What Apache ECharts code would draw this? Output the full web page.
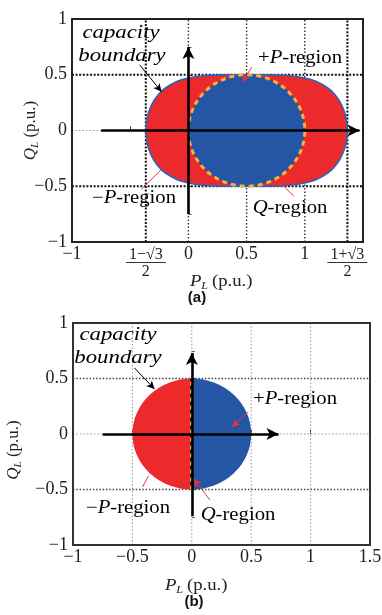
<!DOCTYPE html>
<html><head><meta charset="utf-8">
<script src="https://cdn.jsdelivr.net/npm/echarts@6/dist/echarts.min.js"></script>
<style>html,body{margin:0;padding:0;background:#fff}#c{width:382px;height:615px}</style>
</head><body><div id="c"></div>
<script>
// ================= DATA =================
// panel (a)
const xRangeA = [-1, 1.5];
const yRange = [-1, 1];
const xTicksA = [-1, -0.366, 0, 0.5, 1, 1.366];
const xTickLabelsA = ['−1', 'FRAC_MINUS', '0', '0.5', '1', 'FRAC_PLUS'];
const yTickValues = [-1, -0.5, 0, 0.5, 1];
const yTickLabels = ['−1', '−0.5', '0', '0.5', '1'];
// capacity boundary of panel (a)
const boundaryP      = [-0.366, -0.36, -0.34, -0.30, -0.25, -0.20, -0.10, 0.00, 0.15, 0.30, 0.50, 0.70, 0.85, 1.00, 1.10, 1.20, 1.25, 1.30, 1.34, 1.36, 1.366];
const boundaryQUpper = [0, 0.083, 0.169, 0.261, 0.331, 0.379, 0.439, 0.471, 0.493, 0.499, 0.5, 0.499, 0.493, 0.471, 0.439, 0.379, 0.331, 0.261, 0.169, 0.083, 0];
const boundaryQLower = [0, -0.083, -0.169, -0.261, -0.331, -0.379, -0.439, -0.471, -0.493, -0.499, -0.5, -0.499, -0.493, -0.471, -0.439, -0.379, -0.331, -0.261, -0.169, -0.083, 0];
const qRegionCenterA = [0.5, 0];
const qRegionRadiusA = 0.5;
const gridXMediumA = [0, 0.5, 1];
const gridXHeavyA = [-0.366, 1.366];
const gridYHeavyA = [-0.5, 0.5];
const gridYLightA = [0];
const axisArrowsA = [[[-0.75, 0], [1.47, 0]], [[0, -0.75], [0, 0.75]]];
const annotArrowsA = [
  {from: [-0.419, 0.589], to: [-0.231, 0.348], red: false, head: true},
  {from: [0.547, 0.571], to: [0.462, 0.437], red: true, head: true},
  {from: [-0.402, -0.527], to: [-0.231, -0.348], red: true, head: false},
  {from: [0.906, -0.589], to: [0.82, -0.5], red: true, head: false}
];
// panel (b)
const xRangeB = [-1, 1.5];
const xTicksB = [-1, -0.5, 0, 0.5, 1, 1.5];
const xTickLabelsB = ['−1', '−0.5', '0', '0.5', '1', '1.5'];
const circleCenterB = [0, 0];
const circleRadiusB = 0.5;
const qLineBP = [0, 0];
const qLineBQ = [-0.5, 0.5];
const gridXLightB = [-0.5, 0, 0.5, 1];
const gridYLightB = [0];
const gridYDarkB = [-0.5, 0.5];
const axisArrowsB = [[[-0.75, 0], [0.73, 0]], [[0, -0.74], [0, 0.73]]];
const annotArrowsB = [
  {from: [-0.483, 0.595], to: [-0.314, 0.405], red: false, head: true},
  {from: [0.475, 0.198], to: [0.339, 0.063], red: true, head: true},
  {from: [-0.415, -0.477], to: [-0.364, -0.378], red: true, head: false},
  {from: [0.153, -0.595], to: [0.017, -0.405], red: true, head: true}
];

// ================= STYLE =================
const SERIF = '"Liberation Serif","Times New Roman",serif';
const RED = '#ec2a2b';
const BLUE = '#2556a6';
const ORANGE = '#f2b23a';
const EDGE = '#2d62b8';
const ARED = '#e4333a';

const chart = echarts.init(document.getElementById('c'));

function fracLabel(sign) {
  return '{n|1' + sign + '√3}\n{bar| }\n{d|2}';
}
const labelRich = {
  t: {fontFamily: SERIF, fontSize: 18, color: '#222', lineHeight: 18},
  n: {fontFamily: SERIF, fontSize: 16, color: '#222', lineHeight: 16, padding: [4, 0, 0, 0]},
  bar: {width: 40, height: 1, lineHeight: 3, backgroundColor: '#333', fontSize: 1},
  d: {fontFamily: SERIF, fontSize: 16, color: '#222', lineHeight: 15}
};
const titleRich = {
  i: {fontFamily: SERIF, fontStyle: 'italic', fontSize: 17, color: '#222', lineHeight: 20},
  s: {fontFamily: SERIF, fontStyle: 'italic', fontSize: 11, color: '#222', verticalAlign: 'bottom'},
  n: {fontFamily: SERIF, fontSize: 17, color: '#222', lineHeight: 20}
};

function xAxisA() {
  return {
    gridIndex: 0, type: 'value', min: xRangeA[0], max: xRangeA[1], interval: 0.5,
    axisLine: {show: false}, splitLine: {show: false},
    axisTick: {show: true, inside: true, length: 4, lineStyle: {color: '#333'}},
    axisLabel: {
      customValues: xTicksA, margin: 3, rich: labelRich,
      formatter: function (v) {
        let i = xTicksA.indexOf(v);
        if (i < 0) { i = xTicksA.findIndex(t => Math.abs(t - v) < 1e-6); }
        const s = xTickLabelsA[i];
        if (s === 'FRAC_MINUS') return fracLabel('−');
        if (s === 'FRAC_PLUS') return fracLabel('+');
        return '{t|' + s + '}';
      }
    }
  };
}
function xAxisB() {
  return {
    gridIndex: 1, type: 'value', min: xRangeB[0], max: xRangeB[1], interval: 0.5,
    axisLine: {show: false}, splitLine: {show: false},
    axisTick: {show: true, inside: true, length: 4, lineStyle: {color: '#333'}},
    axisLabel: {
      margin: 3, rich: labelRich,
      formatter: function (v) {
        const i = xTicksB.findIndex(t => Math.abs(t - v) < 1e-6);
        return '{t|' + xTickLabelsB[i] + '}';
      }
    }
  };
}
function yAxis(gi, nameGap, namePad) {
  return {
    gridIndex: gi, type: 'value', min: yRange[0], max: yRange[1], interval: 0.5,
    name: '{i|Q}{s|L}{n| (p.u.)}', nameLocation: 'middle', nameRotate: 90, nameGap: nameGap,
    nameMoveOverlap: false,
    nameTextStyle: {rich: titleRich, padding: namePad},
    axisLine: {show: false}, splitLine: {show: false},
    axisTick: {show: true, inside: true, length: 4, lineStyle: {color: '#333'}},
    minorTick: {show: true, splitNumber: 2, length: 3, lineStyle: {color: '#555'}},
    axisLabel: {
      margin: 5, color: '#222', fontFamily: SERIF, fontSize: 18,
      formatter: function (v) {
        const i = yTickValues.findIndex(t => Math.abs(t - v) < 1e-6);
        return yTickLabels[i];
      }
    }
  };
}

function vLine(api, x, yr, style) {
  const a = api.coord([x, yr[0]]), b = api.coord([x, yr[1]]);
  return {type: 'line', shape: {x1: a[0], y1: a[1], x2: b[0], y2: b[1]}, style: style};
}
function hLine(api, y, xr, style) {
  const a = api.coord([xr[0], y]), b = api.coord([xr[1], y]);
  return {type: 'line', shape: {x1: a[0], y1: a[1], x2: b[0], y2: b[1]}, style: style};
}
const HEAVY = {stroke: '#111', lineWidth: 2, lineDash: [2, 1.6], fill: null};
const MEDIUM = {stroke: '#333', lineWidth: 1.4, lineDash: [1.5, 2], fill: null};
const LIGHT = {stroke: '#999', lineWidth: 1, lineDash: [1.5, 2], fill: null};
const DARKB = {stroke: '#444', lineWidth: 1.3, lineDash: [1.5, 1.8], fill: null};

function arrowData(list, axisArrows) {
  const out = [];
  axisArrows.forEach(function (seg) {
    out.push([
      {coord: seg[0], lineStyle: {color: '#000', width: 2.6, type: 'solid'}},
      {coord: seg[1], symbolSize: [9, 12]}
    ]);
  });
  list.forEach(function (a) {
    out.push([
      {coord: a.from, lineStyle: {color: a.red ? ARED : '#000', width: 1, type: 'solid'}},
      a.head ? {coord: a.to, symbolSize: [6, 8]} : {coord: a.to, symbol: 'none'}
    ]);
  });
  return out;
}
function markLineOf(list, axisArrows) {
  return {silent: true, animation: false, z: 6, symbol: ['none', 'arrow'],
    label: {show: false}, emphasis: {disabled: true}, data: arrowData(list, axisArrows)};
}

const series = [
  // ---------- panel (a) ----------
  {
    type: 'custom', xAxisIndex: 0, yAxisIndex: 0, z: 1, silent: true, data: [0],
    renderItem: function (p, api) {
      const ch = [];
      gridYLightA.forEach(y => ch.push(hLine(api, y, xRangeA, LIGHT)));
      gridXMediumA.forEach(x => ch.push(vLine(api, x, yRange, MEDIUM)));
      gridXHeavyA.forEach(x => ch.push(vLine(api, x, yRange, HEAVY)));
      gridYHeavyA.forEach(y => ch.push(hLine(api, y, xRangeA, HEAVY)));
      return {type: 'group', children: ch};
    }
  },
  {
    type: 'custom', xAxisIndex: 0, yAxisIndex: 0, z: 2, silent: true, data: [0],
    renderItem: function (p, api) {
      const pts = [];
      for (let i = 0; i < boundaryP.length; i++) pts.push(api.coord([boundaryP[i], boundaryQUpper[i]]));
      for (let i = boundaryP.length - 1; i >= 0; i--) pts.push(api.coord([boundaryP[i], boundaryQLower[i]]));
      return {type: 'polygon', shape: {points: pts, smooth: 0.2}, style: {fill: RED, stroke: EDGE, lineWidth: 1.6}};
    }
  },
  {
    type: 'custom', xAxisIndex: 0, yAxisIndex: 0, z: 3, silent: true, data: [0],
    renderItem: function (p, api) {
      const c = api.coord(qRegionCenterA);
      const rx = api.size([qRegionRadiusA, 0])[0];
      const ry = api.size([0, qRegionRadiusA])[1];
      return {type: 'ellipse', shape: {cx: c[0], cy: c[1], rx: rx, ry: ry},
        style: {fill: BLUE, stroke: ORANGE, lineWidth: 3, lineDash: [5, 4]}};
    },
    markLine: markLineOf(annotArrowsA, axisArrowsA)
  },
  // ---------- panel (b) ----------
  {
    type: 'custom', xAxisIndex: 1, yAxisIndex: 1, z: 1, silent: true, data: [0],
    renderItem: function (p, api) {
      const ch = [];
      gridXLightB.forEach(x => ch.push(vLine(api, x, yRange, LIGHT)));
      gridYLightB.forEach(y => ch.push(hLine(api, y, xRangeB, LIGHT)));
      gridYDarkB.forEach(y => ch.push(hLine(api, y, xRangeB, DARKB)));
      return {type: 'group', children: ch};
    }
  },
  {
    type: 'custom', xAxisIndex: 1, yAxisIndex: 1, z: 2, silent: true, data: [0],
    renderItem: function (p, api) {
      const c = api.coord(circleCenterB);
      const rx = api.size([circleRadiusB, 0])[0];
      const ry = api.size([0, circleRadiusB])[1];
      const left = 'M' + c[0] + ' ' + (c[1] - ry) + ' A' + rx + ' ' + ry + ' 0 0 0 ' + c[0] + ' ' + (c[1] + ry) + ' Z';
      const right = 'M' + c[0] + ' ' + (c[1] - ry) + ' A' + rx + ' ' + ry + ' 0 0 1 ' + c[0] + ' ' + (c[1] + ry) + ' Z';
      const a = api.coord([qLineBP[0], qLineBQ[0]]), b = api.coord([qLineBP[1], qLineBQ[1]]);
      return {type: 'group', children: [
        {type: 'path', shape: {pathData: left}, style: {fill: RED}},
        {type: 'path', shape: {pathData: right}, style: {fill: BLUE}},
        {type: 'line', shape: {x1: a[0], y1: a[1], x2: b[0], y2: b[1]}, style: {stroke: '#1a1a2a', lineWidth: 3.4}},
        {type: 'line', shape: {x1: a[0], y1: a[1], x2: b[0], y2: b[1]}, style: {stroke: ORANGE, lineWidth: 3.4, lineDash: [4, 4]}}
      ]};
    },
    markLine: markLineOf(annotArrowsB, axisArrowsB)
  }
];

// ---------- text annotations ----------
function txt(x, y, text, rich, sx) {
  return {type: 'text', x: x, y: y, scaleX: sx || 1.15, z: 50, silent: true,
    style: {text: text, rich: rich, align: 'center', verticalAlign: 'middle', fontFamily: SERIF, fontSize: 18}};
}
const capRich = {c: {fontFamily: SERIF, fontStyle: 'italic', fontSize: 19, color: '#111'}};
const regRich = {
  n: {fontFamily: SERIF, fontSize: 18, color: ARED},
  i: {fontFamily: SERIF, fontStyle: 'italic', fontSize: 18, color: ARED}
};
// horizontal axis title P_L (p.u.)
function xTitle(x, y) {
  return {type: 'group', x: x, y: y, scaleX: 1.1, silent: true, z: 50, children: [
    {type: 'text', x: 0, y: 0, style: {text: 'P', fontFamily: SERIF, fontStyle: 'italic', fontSize: 17, fill: '#222', verticalAlign: 'middle', align: 'left'}},
    {type: 'text', x: 10.3, y: 4.5, style: {text: 'L', fontFamily: SERIF, fontStyle: 'italic', fontSize: 11, fill: '#222', verticalAlign: 'middle', align: 'left'}},
    {type: 'text', x: 20, y: 0, style: {text: '(p.u.)', fontFamily: SERIF, fontSize: 17, fill: '#222', verticalAlign: 'middle', align: 'left'}}
  ]};
}
const graphics = [
  txt(121, 33, '{c|capacity}', capRich, 1.2),
  txt(122, 56, '{c|boundary}', capRich, 1.2),
  txt(300, 58, '{n|+}{i|P}{n|-region}', regRich),
  txt(134, 198, '{n|−}{i|P}{n|-region}', regRich),
  txt(290, 208, '{i|Q}{n|-region}', regRich),
  txt(118, 335, '{c|capacity}', capRich, 1.2),
  txt(118, 358, '{c|boundary}', capRich, 1.2),
  txt(295, 399, '{n|+}{i|P}{n|-region}', regRich),
  txt(128, 508, '{n|−}{i|P}{n|-region}', regRich),
  txt(238, 515, '{i|Q}{n|-region}', regRich),
  xTitle(190, 282),
  xTitle(165, 586),
  {type: 'text', x: 197, y: 298, z: 50, style: {text: '(a)', fontFamily: '"Liberation Sans",Arial,sans-serif', fontWeight: 'bold', fontSize: 15, fill: '#111', align: 'center', verticalAlign: 'middle'}},
  {type: 'text', x: 194, y: 602, z: 50, style: {text: '(b)', fontFamily: '"Liberation Sans",Arial,sans-serif', fontWeight: 'bold', fontSize: 15, fill: '#111', align: 'center', verticalAlign: 'middle'}}
];

chart.setOption({
  animation: false,
  backgroundColor: '#fff',
  grid: [
    {left: 72, top: 19, width: 291, height: 223, show: true, borderColor: '#222', borderWidth: 2, backgroundColor: 'transparent', z: 10, containLabel: false, outerBoundsMode: 'none'},
    {left: 73, top: 323, width: 297, height: 222, show: true, borderColor: '#333', borderWidth: 2, backgroundColor: 'transparent', z: 10, containLabel: false, outerBoundsMode: 'none'}
  ],
  xAxis: [xAxisA(), xAxisB()],
  yAxis: [yAxis(0, 31, [0, 0, 0, 0]), yAxis(1, 49, [0, 32, 0, 0])],
  series: series,
  graphic: graphics
});
</script>
</body></html>
